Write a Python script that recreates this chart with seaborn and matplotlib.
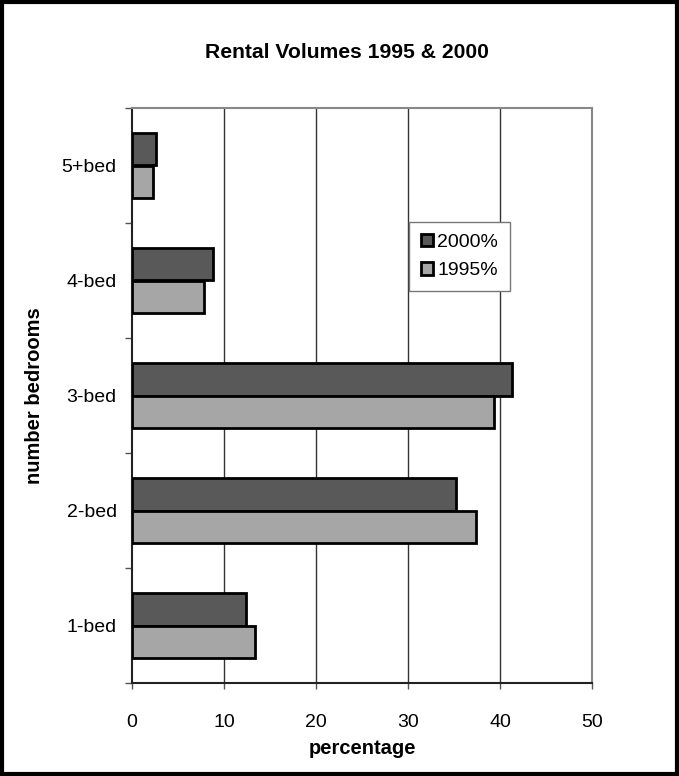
import matplotlib
matplotlib.use("Agg")
import matplotlib.pyplot as plt
from matplotlib.patches import Rectangle
from matplotlib.ticker import FixedLocator
import numpy as np
import pandas as pd
import seaborn as sns

# values
categories = ["5+bed", "4-bed", "3-bed", "2-bed", "1-bed"]
pct_2000 = [2.6, 8.8, 41.3, 35.2, 12.4]
pct_1995 = [2.3, 7.8, 39.4, 37.4, 13.4]
series = ["2000%", "1995%"]
colors = ["#595959", "#a6a6a6"]
x_ticks = [0, 10, 20, 30, 40, 50]

df = pd.DataFrame({
    "bedrooms": categories * 2,
    "year": [series[0]] * len(categories) + [series[1]] * len(categories),
    "pct": pct_2000 + pct_1995,
})

sns.set_style("white", {"text.color": "black", "axes.labelcolor": "black",
                        "xtick.color": "black", "ytick.color": "black"})
plt.rcParams["font.family"] = ["Liberation Sans", "DejaVu Sans"]

fig = plt.figure(figsize=(6.79, 7.76), dpi=100)
ax = fig.add_axes([132 / 679, 1 - 683 / 776, 460 / 679, 575 / 776])

sns.barplot(data=df, y="bedrooms", x="pct", hue="year", order=categories,
            hue_order=series, palette=colors, orient="h", width=0.56,
            edgecolor="black", linewidth=2, ax=ax, zorder=3)

ax.set_xlim(0, 50)
ax.set_ylim(len(categories) - 0.5, -0.5)
ax.set_xticks(x_ticks)
ax.tick_params(axis="x", labelsize=14, length=4, width=1, color="#555555",
               direction="out", bottom=True, pad=18)
ax.tick_params(axis="y", which="major", labelsize=14, length=0, pad=11)
ax.yaxis.set_minor_locator(FixedLocator(np.arange(-0.5, len(categories), 1)))
ax.tick_params(axis="y", which="minor", length=5, width=1, color="#555555",
               direction="out", left=True)

for v in x_ticks[1:-1]:
    ax.axvline(v, color="#333333", lw=1, zorder=1)

for side in ["left", "bottom"]:
    ax.spines[side].set_color("#222222")
    ax.spines[side].set_linewidth(1.5)
for side in ["top", "right"]:
    ax.spines[side].set_visible(True)
    ax.spines[side].set_color("#888888")
    ax.spines[side].set_linewidth(1.5)

ax.set_xlabel("percentage", fontsize=14.5, fontweight="bold", labelpad=6)
ax.set_ylabel("number bedrooms", fontsize=14.5, fontweight="bold", labelpad=13)
fig.text(347 / 679, 1 - 52 / 776, "Rental Volumes 1995 & 2000", ha="center",
         va="center", fontsize=15.2, fontweight="bold")

leg = ax.legend(loc="upper left", bbox_to_anchor=(0.602, 0.802), fontsize=14,
                frameon=True, fancybox=False, framealpha=1, edgecolor="#777777",
                handlelength=0.65, handleheight=0.65, handletextpad=0.2,
                borderpad=0.6, labelspacing=0.55, borderaxespad=0)
leg.get_frame().set_linewidth(1)
for h in leg.legend_handles:
    h.set_linewidth(2)

# outer border around the whole chart
fig.patches.append(Rectangle((0.003, 0.003), 0.994, 0.994, transform=fig.transFigure,
                             fill=False, edgecolor="black", linewidth=3))

fig.savefig("out.png", dpi=100)
